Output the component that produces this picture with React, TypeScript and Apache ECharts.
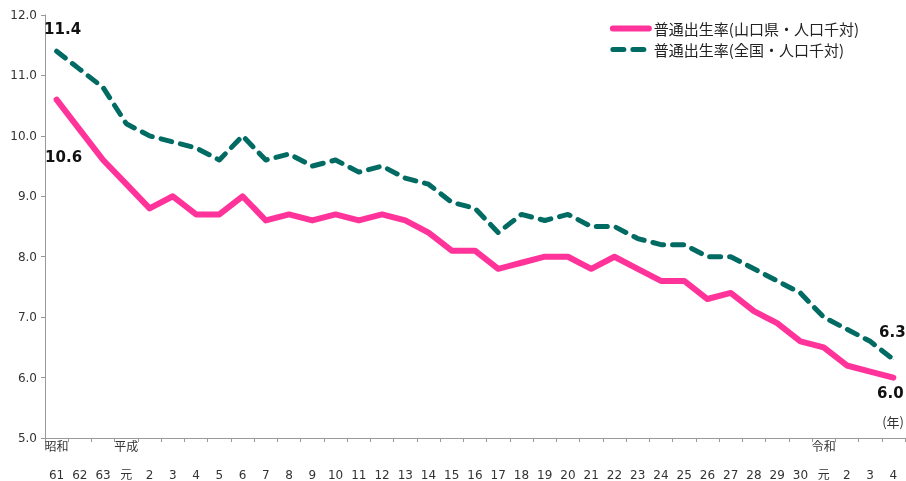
import React, { useEffect, useRef } from "react";
import * as echarts from "echarts";

const eras = ["昭和", "", "", "平成", "", "", "", "", "", "", "", "", "", "", "", "", "", "", "", "", "", "", "", "", "", "", "", "", "", "", "", "", "", "令和", "", "", ""];
const years = ["61", "62", "63", "元", "2", "3", "4", "5", "6", "7", "8", "9", "10", "11", "12", "13", "14", "15", "16", "17", "18", "19", "20", "21", "22", "23", "24", "25", "26", "27", "28", "29", "30", "元", "2", "3", "4"];
const yamaguchi = [10.6, 10.1, 9.6, 9.2, 8.8, 9.0, 8.7, 8.7, 9.0, 8.6, 8.7, 8.6, 8.7, 8.6, 8.7, 8.6, 8.4, 8.1, 8.1, 7.8, 7.9, 8.0, 8.0, 7.8, 8.0, 7.8, 7.6, 7.6, 7.3, 7.4, 7.1, 6.9, 6.6, 6.5, 6.2, 6.1, 6.0];
const national = [11.4, 11.1, 10.8, 10.2, 10.0, 9.9, 9.8, 9.6, 10.0, 9.6, 9.7, 9.5, 9.6, 9.4, 9.5, 9.3, 9.2, 8.9, 8.8, 8.4, 8.7, 8.6, 8.7, 8.5, 8.5, 8.3, 8.2, 8.2, 8.0, 8.0, 7.8, 7.6, 7.4, 7.0, 6.8, 6.6, 6.3];
const seriesNames = ["普通出生率(山口県・人口千対)", "普通出生率(全国・人口千対)"];

export default function App() {
  const ref = useRef<HTMLDivElement>(null);
  useEffect(() => {
    if (!ref.current) return;
    const chart = echarts.init(ref.current, null, { renderer: "svg" });
    const cats = years.map((y, i) => `${eras[i]}\n${y}`);
    const n = cats.length;
    const mk = (v: number, pos: string, distance: number, dx: number) => ({
      value: v,
      symbol: "circle",
      symbolSize: 0.5,
      label: {
        show: true,
        position: pos,
        distance,
        offset: [dx, 0],
        fontSize: 15,
        fontWeight: "bold",
        color: "#111",
        fontFamily: "DejaVu Sans, Verdana, sans-serif",
        formatter: (p: any) => Number(p.value).toFixed(1),
      },
    });
    const yData: any[] = yamaguchi.map((v) => v);
    yData[0] = mk(yamaguchi[0], "bottom", 50, 7);
    yData[n - 1] = mk(yamaguchi[n - 1], "bottom", 8, -3);
    const nData: any[] = national.map((v) => v);
    nData[0] = mk(national[0], "top", 15, 6);
    nData[n - 1] = mk(national[n - 1], "top", 20, -1);
    chart.setOption({
      animation: false,
      textStyle: { fontFamily: "DejaVu Sans, 'Noto Sans CJK JP', sans-serif" },
      grid: { left: 45, right: 1, top: 15, bottom: 43, containLabel: false, outerBoundsMode: "none" },
      legend: {
        orient: "vertical",
        right: 42,
        top: 16,
        itemWidth: 36,
        itemHeight: 12,
        itemGap: 6,
        itemStyle: { opacity: 0 },
        lineStyle: { width: "inherit" },
        textStyle: { fontSize: 15, color: "#222", fontFamily: "'Noto Sans CJK JP', sans-serif" },
        data: seriesNames,
      },
      xAxis: {
        type: "category",
        data: cats,
        boundaryGap: true,
        axisLine: { lineStyle: { color: "#999", width: 1 } },
        axisTick: { show: true, length: 4, inside: false, lineStyle: { color: "#999" } },
        axisLabel: {
          interval: 0,
          color: "#333",
          fontSize: 12,
          lineHeight: 28,
          margin: -5,
          fontFamily: "DejaVu Sans, 'Noto Sans CJK JP', sans-serif",
        },
      },
      yAxis: {
        type: "value",
        min: 5,
        max: 12,
        interval: 1,
        splitLine: { show: false },
        axisLine: { show: true, lineStyle: { color: "#999" } },
        axisTick: { show: true, length: 4, lineStyle: { color: "#999" } },
        axisLabel: {
          color: "#333",
          fontSize: 12,
          margin: 8,
          formatter: (v: number) => v.toFixed(1),
          fontFamily: "DejaVu Sans, sans-serif",
        },
      },
      graphic: [
        {
          type: "text",
          right: 2,
          top: 415,
          style: { text: "(年)", fontSize: 13, fill: "#333", fontFamily: "'Noto Sans CJK JP', sans-serif" },
        },
      ],
      series: [
        {
          name: seriesNames[0],
          type: "line",
          data: yData,
          symbol: "none",
          lineStyle: { color: "#ff3399", width: 6, cap: "round", join: "round" },
          itemStyle: { color: "#ff3399" },
          z: 3,
        },
        {
          name: seriesNames[1],
          type: "line",
          data: nData,
          symbol: "none",
          lineStyle: { color: "#006b63", width: 5, type: [11, 9], cap: "round", join: "round" },
          itemStyle: { color: "#006b63" },
          z: 2,
        },
      ],
    });
    return () => chart.dispose();
  }, []);
  return <div ref={ref} style={{ position: "fixed", left: 0, top: 0, width: 906, height: 481 }} />;
}
